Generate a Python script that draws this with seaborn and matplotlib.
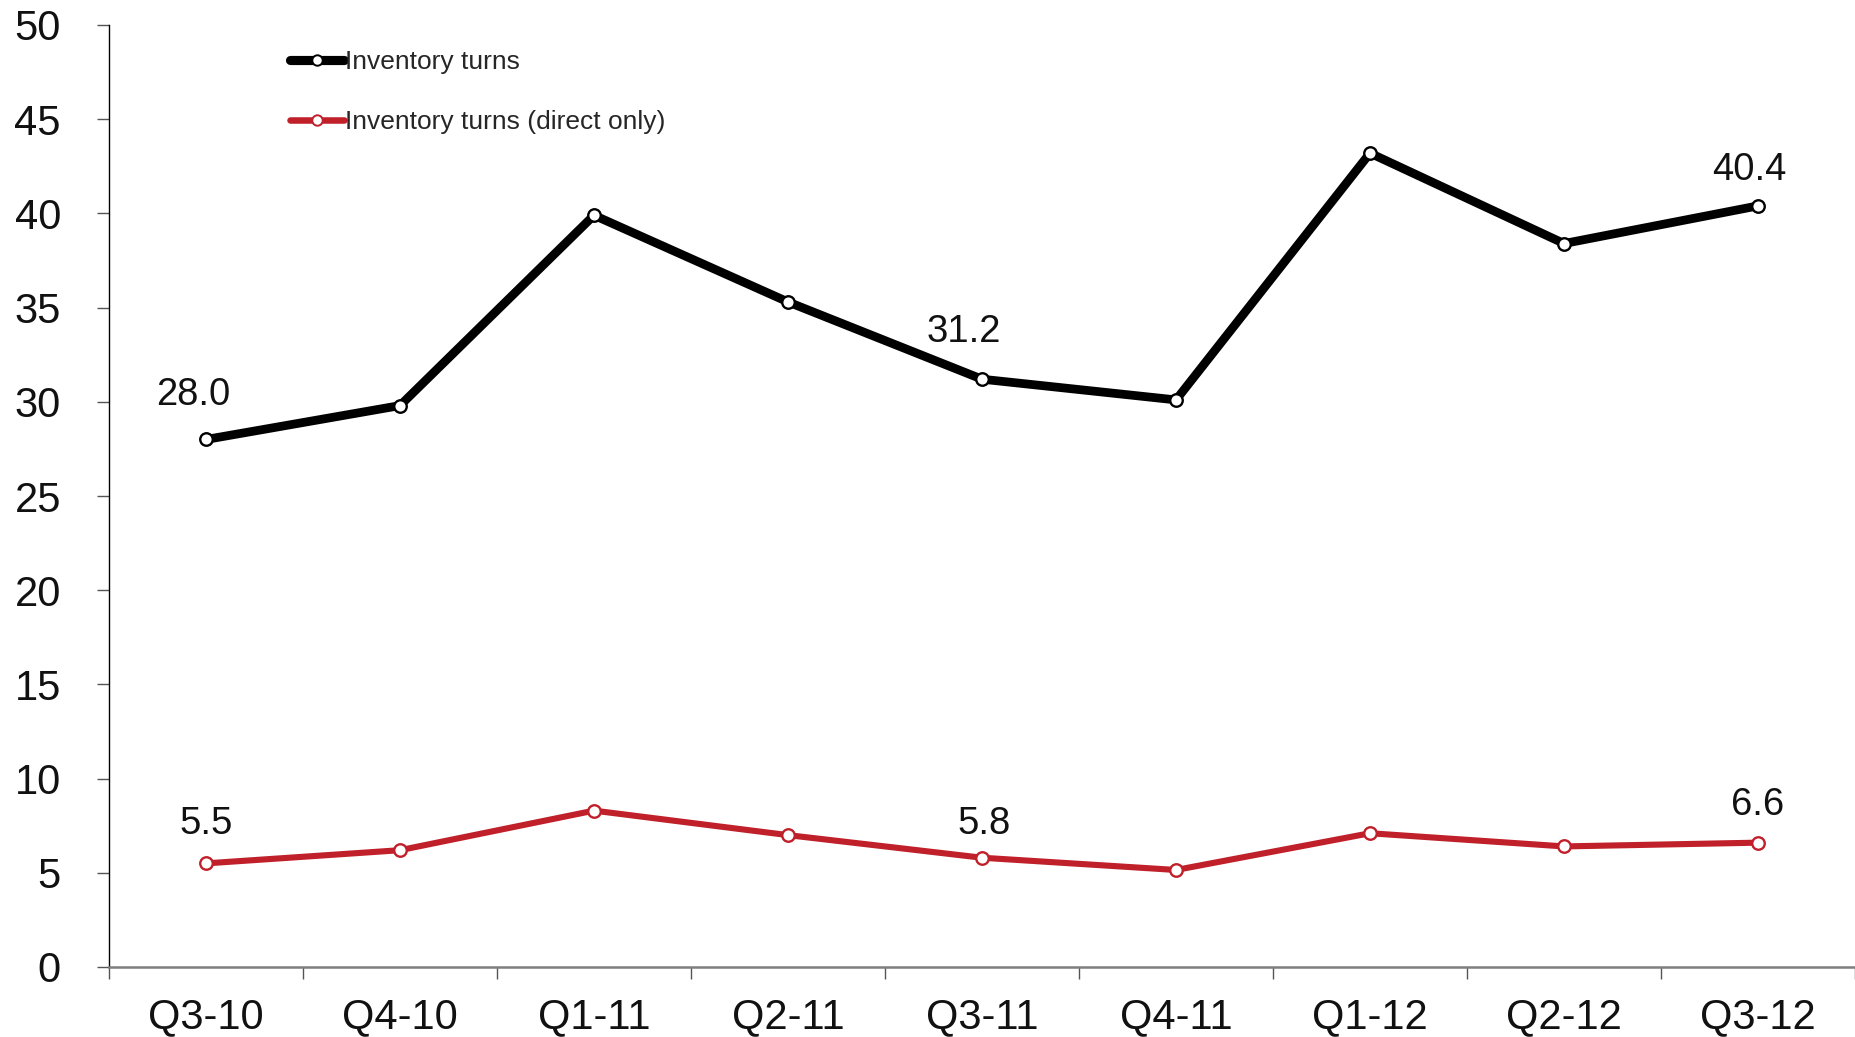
import matplotlib
matplotlib.use("Agg")
import matplotlib.pyplot as plt
import seaborn as sns
import pandas as pd
import numpy as np
from matplotlib.ticker import FixedLocator, MultipleLocator
from matplotlib.lines import Line2D

quarters = ["Q3-10", "Q4-10", "Q1-11", "Q2-11", "Q3-11", "Q4-11", "Q1-12", "Q2-12", "Q3-12"]
turns = [28.0, 29.8, 39.9, 35.3, 31.2, 30.1, 43.2, 38.4, 40.4]
turns_direct = [5.5, 6.2, 8.3, 7.0, 5.8, 5.15, 7.1, 6.4, 6.6]
series_names = ["Inventory turns", "Inventory turns (direct only)"]
labeled_idx = [0, 4, 8]

sns.set_theme(style="white")
plt.rcParams["font.family"] = ["Liberation Sans", "DejaVu Sans"]

df = pd.DataFrame({
    "quarter": quarters * 2,
    "value": turns + turns_direct,
    "series": [series_names[0]] * len(quarters) + [series_names[1]] * len(quarters),
})

fig = plt.figure(figsize=(18.55, 10.37), dpi=100)
ax = fig.add_axes([109 / 1855, 1 - 967 / 1037, 1 - 109 / 1855, (967 - 25) / 1037])

colors = {series_names[0]: "#000000", series_names[1]: "#C0202A"}
widths = {series_names[0]: 6.3, series_names[1]: 4.4}
for name in series_names:
    sub = df[df["series"] == name]
    sns.lineplot(data=sub, x="quarter", y="value", ax=ax, color=colors[name],
                 linewidth=widths[name], marker="o", markersize=9,
                 markerfacecolor="white", markeredgecolor=colors[name],
                 markeredgewidth=1.7, sort=False, legend=False)

# per-label offsets (points)
offsets = {
    (0, 0): (-9.4, 19), (0, 4): (-12.8, 20.7), (0, 8): (-6, 13),
    (1, 0): (0, 15.6), (1, 4): (1.7, 11.3), (1, 8): (0, 13.9),
}
for s, vals in enumerate((turns, turns_direct)):
    for i in labeled_idx:
        dx, dy = offsets[(s, i)]
        ax.annotate(f"{vals[i]:.1f}", (i, vals[i]), xytext=(dx, dy), textcoords="offset points",
                    ha="center", va="bottom", fontsize=27.5, color="#111111")

ax.set_xlim(-0.5, len(quarters) - 0.5)
ax.set_ylim(0, 50)
ax.yaxis.set_major_locator(MultipleLocator(5))
ax.set_xlabel("")
ax.set_ylabel("")
ax.xaxis.set_minor_locator(FixedLocator(np.arange(-0.5, len(quarters), 1.0)))
ax.tick_params(axis="x", which="major", length=0, pad=22, labelsize=30, colors="#111111")
ax.tick_params(axis="x", which="minor", length=8.6, width=1.0, color="#555555", bottom=True)
ax.tick_params(axis="y", which="major", length=8.6, width=1.0, color="#555555", pad=26,
               labelsize=30, labelcolor="#111111", left=True)

for s in ["top", "right"]:
    ax.spines[s].set_visible(False)
ax.spines["left"].set_color("#000000")
ax.spines["left"].set_linewidth(1.0)
ax.spines["bottom"].set_color("#7F7F7F")
ax.spines["bottom"].set_linewidth(1.8)

handles = [Line2D([0], [0], color=colors[n], linewidth=widths[n] + 0.3, marker="o", markersize=7.5,
                  markerfacecolor="white", markeredgecolor=colors[n], markeredgewidth=1.4)
           for n in series_names]
ax.legend(handles, series_names, loc="upper left", bbox_to_anchor=(290 / 1855, 1 - 50 / 1037),
          bbox_transform=fig.transFigure, frameon=False, fontsize=19, handlelength=2.04,
          handletextpad=0.05, labelspacing=1.38, borderpad=0, borderaxespad=0)

fig.savefig("out.png", dpi=100)
